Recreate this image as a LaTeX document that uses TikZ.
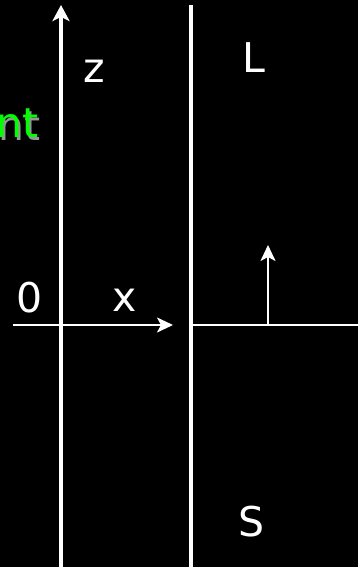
\documentclass[tikz,border=0pt]{standalone}
\usepackage{fontspec}
\setmainfont{DejaVu Sans}
\usetikzlibrary{arrows.meta}
\definecolor{lime}{RGB}{0,255,0}
\definecolor{shade}{RGB}{150,150,150}
\tikzset{
  lbl/.style={text=white, inner sep=0pt, font=\fontsize{41}{41}\selectfont},
  thick line/.style={draw=white, line width=3.5pt},
  thin line/.style={draw=white, line width=2.2pt},
  bigtip/.style={-{Stealth[length=16pt,width=17pt,inset=4pt]}},
  smalltip/.style={-{Stealth[length=16pt,width=15pt,inset=4pt]}}
}
\begin{document}
\begin{tikzpicture}[x=1pt,y=-1pt]
\fill[black] (0,0) rectangle (358,567);
\useasboundingbox (0,0) rectangle (358,567);
% coordinates
\coordinate (zb) at (61,567);
\coordinate (zt) at (61,5);
\coordinate (wb) at (191,567);
\coordinate (wt) at (191,5);
\coordinate (xl) at (13,325);
\coordinate (xr) at (173,325);
\coordinate (hl) at (189,325);
\coordinate (hr) at (358,325);
\coordinate (ab) at (268,325);
\coordinate (at) at (268,245);
% lines
\draw[thick line, bigtip] (zb) -- (zt);
\draw[thick line] (wb) -- (wt);
\draw[thin line, smalltip] (xl) -- (xr);
\draw[thin line] (hl) -- (hr);
\draw[thin line, smalltip] (ab) -- (at);
% labels
\node[lbl] (zlab) at (94,71) {z};
\node[lbl] (Llab) at (254,58) {L};
\node[lbl] (olab) at (30,298) {0};
\node[lbl] (xlab) at (125,300) {x};
\node[lbl] (Slab) at (252,522) {S};
\node[lbl, anchor=base west, text=shade] (ntshadow) at (-2,140) {nt};
\node[lbl, anchor=base west, text=lime] (nt) at (-4,138) {nt};
\end{tikzpicture}
\end{document}
